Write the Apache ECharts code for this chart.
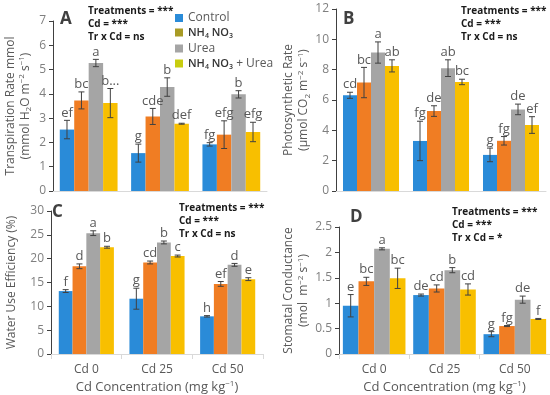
<!DOCTYPE html>
<html><head><meta charset="utf-8">
<script src="https://cdn.jsdelivr.net/npm/echarts@6/dist/echarts.min.js"></script>
<style>html,body{margin:0;padding:0;background:#fff}#c{width:550px;height:395px}</style>
</head><body><div id="c"></div>
<script>
const categories = ['Cd 0', 'Cd 25', 'Cd 50'];
const treatments = ['Control', 'NH4NO3', 'Urea', 'NH4NO3 + Urea'];
const barColors = ['#2a8bd8', '#f07d23', '#a5a5a5', '#f8bf00'];
const legendColors = ['#2a8bd8', '#a89b25', '#a5a5a5', '#c8cd10'];

// A: Transpiration rate (rows = treatments, cols = Cd levels)
const transpMean = [[2.53, 1.56, 1.92], [3.73, 3.07, 2.32], [5.27, 4.28, 3.98], [3.62, 2.77, 2.43]];
const transpErr = [[0.38, 0.37, 0.07], [0.35, 0.33, 0.57], [0.15, 0.38, 0.15], [0.6, 0.02, 0.4]];
const transpLetters = [['ef', 'g', 'fg'], ['bc', 'cde', 'efg'], ['a', 'b', 'b'], ['b...', 'def', 'efg']];
// B: Photosynthetic rate
const photoMean = [[6.31, 3.3, 2.38], [7.15, 5.27, 3.31], [9.13, 8.1, 5.38], [8.25, 7.19, 4.35]];
const photoErr = [[0.2, 1.3, 0.45], [1.0, 0.35, 0.28], [0.7, 0.55, 0.35], [0.4, 0.18, 0.55]];
const photoLetters = [['cd', 'fg', 'g'], ['bc', 'de', 'fg'], ['a', 'ab', 'de'], ['ab', 'bc', 'ef']];
// C: Water use efficiency
const wueMean = [[13.2, 11.6, 7.9], [18.4, 19.2, 14.7], [25.35, 23.4, 18.7], [22.4, 20.55, 15.7]];
const wueErr = [[0.3, 2.2, 0.15], [0.5, 0.3, 0.5], [0.5, 0.3, 0.3], [0.2, 0.2, 0.3]];
const wueLetters = [['f', 'g', 'h'], ['d', 'cd', 'ef'], ['a', 'b', 'd'], ['b', 'c', 'e']];
// D: Stomatal conductance
const stomMean = [[0.95, 1.16, 0.39], [1.43, 1.29, 0.55], [2.07, 1.65, 1.07], [1.49, 1.27, 0.69]];
const stomErr = [[0.22, 0.02, 0.05], [0.08, 0.07, 0.01], [0.02, 0.05, 0.07], [0.2, 0.11, 0.01]];
const stomLetters = [['e', 'de', 'g'], ['bc', 'cd', 'fg'], ['a', 'b', 'de'], ['bc', 'cd', 'f']];

const FONT = 'Open Sans';
const gray = '#595959';
const rich = {
  sub: { fontSize: 8, verticalAlign: 'bottom', lineHeight: 15, fontFamily: FONT, color: gray },
  sup: { fontSize: 8, verticalAlign: 'top', lineHeight: 15, fontFamily: FONT, color: gray }
};

const panels = [
  { mean: transpMean, err: transpErr, letters: transpLetters, max: 7, interval: 1, gap: 0.19,
    grid: { left: 53, top: 21, width: 214, height: 170 }, labels: false,
    name: 'Transpiration Rate mmol\n(mmol H{sub|2}O m{sup|−2} s{sup|−1})', nameGap: 20 },
  { mean: photoMean, err: photoErr, letters: photoLetters, max: 12, interval: 2, gap: 0.2,
    grid: { left: 336, top: 9, width: 210, height: 182 }, labels: false,
    name: 'Photosynthetic Rate\n(µmol CO{sub|2} m{sup|−2} s{sup|−1})', nameGap: 20 },
  { mean: wueMean, err: wueErr, letters: wueLetters, max: 30, interval: 5, gap: 0.22,
    grid: { left: 51, top: 211, width: 212, height: 144 }, labels: true,
    name: 'Water Use Efficiency (%)', nameGap: 32 },
  { mean: stomMean, err: stomErr, letters: stomLetters, max: 2.5, interval: 0.5, gap: 0.11,
    grid: { left: 339, top: 227, width: 211, height: 131 }, labels: true,
    name: 'Stomatal Conductance\n(mol  m{sup|−2} s{sup|−1})', nameGap: 20 }
];

const grids = [], xAxes = [], yAxes = [], series = [];
panels.forEach((p, pi) => {
  grids.push(p.grid);
  xAxes.push({
    type: 'category', gridIndex: pi, data: categories,
    axisLine: { lineStyle: { color: '#d9d9d9' } },
    axisTick: { show: p.labels, lineStyle: { color: '#d9d9d9' } },
    axisLabel: { show: p.labels, color: gray, fontSize: 12, fontFamily: FONT, margin: 10 },
    name: p.labels ? 'Cd Concentration (mg kg{sup|−1})' : '',
    nameLocation: 'middle', nameGap: 26,
    nameTextStyle: { color: gray, fontSize: 13, fontFamily: FONT, rich: rich }
  });
  yAxes.push({
    type: 'value', gridIndex: pi, min: 0, max: p.max, interval: p.interval,
    splitLine: { show: false },
    axisLine: { show: true, lineStyle: { color: '#404040' } },
    axisTick: { show: true, length: 4, lineStyle: { color: '#404040' } },
    axisLabel: { color: '#7f7f7f', fontSize: 12, fontFamily: FONT, margin: 7 },
    name: p.name, nameLocation: 'middle', nameRotate: 90, nameGap: p.nameGap,
    nameTextStyle: { color: gray, fontSize: 12, fontFamily: FONT, lineHeight: 15, rich: rich }
  });
  treatments.forEach((t, ti) => {
    series.push({
      name: t, type: 'bar', xAxisIndex: pi, yAxisIndex: pi,
      data: p.mean[ti], barGap: '0%', barCategoryGap: (p.gap * 100) + '%',
      itemStyle: { color: barColors[ti] }, z: 2
    });
  });
  treatments.forEach((t, ti) => {
    const letters = p.letters[ti];
    series.push({
      name: t, type: 'custom', xAxisIndex: pi, yAxisIndex: pi, z: 5,
      data: categories.map((c, ci) => [ci, p.mean[ti][ci], p.err[ti][ci]]),
      renderItem: function (params, api) {
        const ci = api.value(0), m = api.value(1), e = api.value(2);
        const band = api.size([1, 0])[0];
        const bw = band * (1 - p.gap) / 4;
        const cx = api.coord([ci, m])[0] + (ti - 1.5) * bw;
        const yT = api.coord([ci, m + e])[1];
        const yB = api.coord([ci, m - e])[1];
        const cap = 3;
        const ls = { stroke: '#404040', lineWidth: 1 };
        return {
          type: 'group', children: [
            { type: 'line', shape: { x1: cx, y1: yT, x2: cx, y2: yB }, style: ls },
            { type: 'line', shape: { x1: cx - cap, y1: yT, x2: cx + cap, y2: yT }, style: ls },
            { type: 'line', shape: { x1: cx - cap, y1: yB, x2: cx + cap, y2: yB }, style: ls },
            { type: 'text', style: { x: cx, y: yT - 1, text: letters[params.dataIndex], fill: gray,
                fontSize: 13, fontFamily: FONT, textAlign: 'center', textVerticalAlign: 'bottom' } }
          ]
        };
      }
    });
  });
});

function statText(x, y, lines) {
  return lines.map((s, i) => ({
    type: 'text', left: x, top: y + i * 13,
    style: { text: s, fill: '#1a1a1a', fontSize: 10, fontWeight: 'bold', fontFamily: FONT }
  }));
}
function letter(x, y, s) {
  return { type: 'text', left: x, top: y, style: { text: s, fill: '#404040', fontSize: 17, fontWeight: 'bold', fontFamily: FONT } };
}
const graphics = [].concat(
  statText(88, 6, ['Treatments = ***', 'Cd = ***', 'Tr x Cd = ns']),
  statText(461, 6, ['Treatments = ***', 'Cd = ***', 'Tr x Cd = ns']),
  statText(179, 203, ['Treatments = ***', 'Cd = ***', 'Tr x Cd = ns']),
  statText(452, 207, ['Treatments = ***', 'Cd = ***', 'Tr x Cd = *']),
  [letter(60, 11, 'A'), letter(343, 11, 'B'), letter(52, 204, 'C'), letter(350, 209, 'D')]
);

const chart = echarts.init(document.getElementById('c'));
chart.setOption({
  animation: false,
  textStyle: { fontFamily: FONT },
  grid: grids, xAxis: xAxes, yAxis: yAxes, series: series,
  legend: {
    orient: 'vertical', left: 170, top: 7, itemWidth: 8, itemHeight: 8, itemGap: 3,
    data: treatments.map((t, i) => ({ name: t, icon: 'rect', itemStyle: { color: legendColors[i] } })),
    formatter: function (n) {
      if (n === 'NH4NO3') return '{b|NH}{bs|4}{b| NO}{bs|3}';
      if (n === 'NH4NO3 + Urea') return '{b|NH}{bs|4}{b| NO}{bs|3} + Urea';
      return n;
    },
    textStyle: { color: gray, fontSize: 12, fontFamily: FONT,
      rich: { b: { color: '#333333', fontSize: 11, fontWeight: 600, fontFamily: FONT, lineHeight: 14 },
              bs: { color: '#333333', fontSize: 7, fontWeight: 600, verticalAlign: 'bottom', fontFamily: FONT, lineHeight: 14 } } }
  },
  graphic: graphics
});
</script></body></html>
